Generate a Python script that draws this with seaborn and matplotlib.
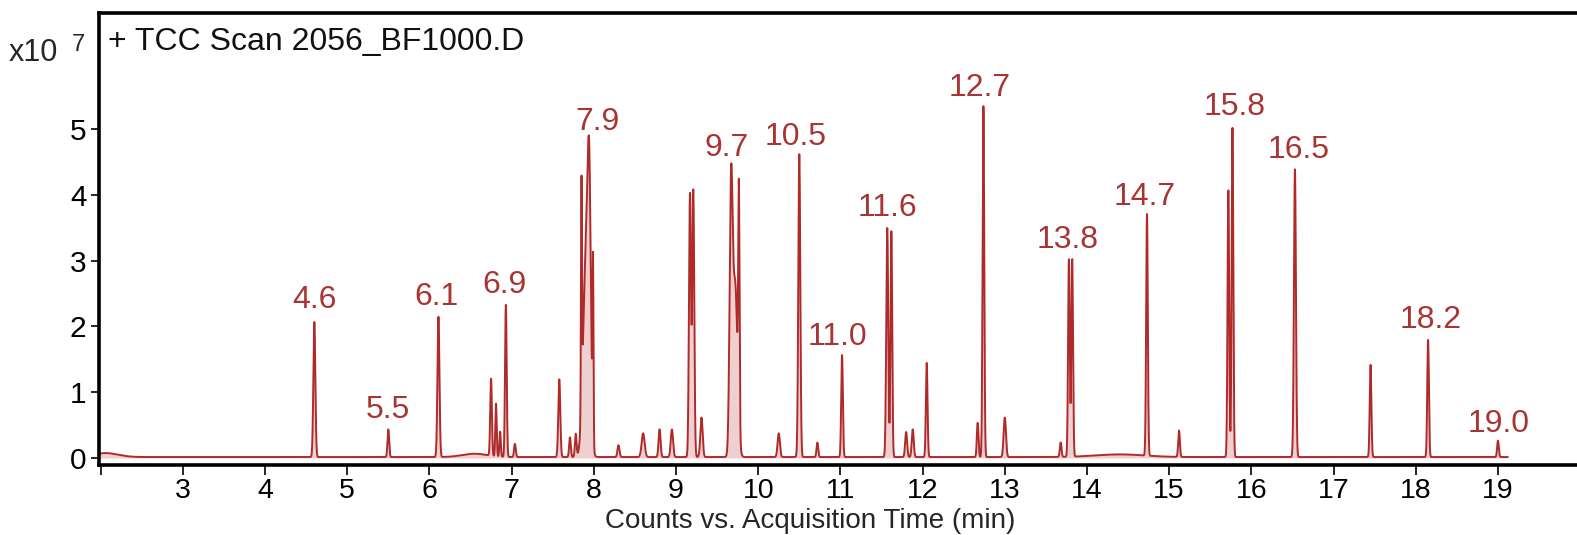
import numpy as np
import pandas as pd
import matplotlib
matplotlib.use("Agg")
import matplotlib.pyplot as plt
import seaborn as sns

# ---- data (heights in units of 1e7 counts) ----
peak_rt = [2.06, 4.60, 5.50, 6.11, 6.55, 6.75, 6.81, 6.86, 6.93, 7.04,
           7.58, 7.71, 7.78, 7.85, 7.905, 7.945, 7.99, 8.30, 8.60, 8.80,
           8.95, 9.17, 9.21, 9.31, 9.67, 9.72, 9.765, 10.25, 10.50, 10.72,
           11.02, 11.57, 11.62, 11.80, 11.88, 12.05, 12.67, 12.74, 13.00,
           13.68, 13.78, 13.82, 14.40, 14.73, 15.12, 15.72, 15.77, 16.53,
           17.45, 18.15, 19.00]
peak_height = [0.06, 2.05, 0.42, 2.13, 0.05, 1.17, 0.80, 0.38, 2.31, 0.20,
               1.18, 0.30, 0.35, 3.40, 3.00, 3.15, 2.70, 0.18, 0.36, 0.42,
               0.42, 4.00, 4.05, 0.60, 3.88, 2.60, 3.50, 0.36, 4.60, 0.22,
               1.55, 3.48, 3.43, 0.38, 0.42, 1.43, 0.52, 5.33, 0.60,
               0.22, 3.00, 3.00, 0.04, 3.67, 0.40, 4.05, 5.00, 4.37,
               1.40, 1.78, 0.25]
peak_width = [0.15, 0.012, 0.010, 0.012, 0.15, 0.010, 0.008, 0.008, 0.010, 0.010,
              0.012, 0.010, 0.010, 0.006, 0.035, 0.020, 0.006, 0.012, 0.018, 0.012,
              0.014, 0.012, 0.012, 0.014, 0.018, 0.028, 0.008, 0.014, 0.012, 0.010,
              0.010, 0.012, 0.010, 0.012, 0.012, 0.010, 0.010, 0.010, 0.014,
              0.010, 0.010, 0.010, 0.30, 0.010, 0.010, 0.010, 0.010, 0.012,
              0.010, 0.010, 0.010]

label_text = ["4.6", "5.5", "6.1", "6.9", "7.9", "9.7", "10.5", "11.0", "11.6",
              "12.7", "13.8", "14.7", "15.8", "16.5", "18.2", "19.0"]
label_x = [4.60, 5.49, 6.09, 6.91, 8.04, 9.62, 10.46, 10.97, 11.57,
           12.70, 13.77, 14.70, 15.80, 16.57, 18.18, 19.01]
label_y = [2.40, 0.73, 2.45, 2.63, 5.11, 4.71, 4.88, 1.84, 3.80,
           5.62, 3.31, 3.97, 5.33, 4.68, 2.10, 0.52]

x_ticks = list(range(2, 20))
x_tick_labels = [""] + [str(v) for v in range(3, 20)]
y_ticks = [0, 1, 2, 3, 4, 5]

# ---- build trace from the peak table ----
t = np.linspace(1.98, 19.12, 20000)
sig = np.zeros_like(t)
for rt, h, w in zip(peak_rt, peak_height, peak_width):
    sig += h * np.exp(-0.5 * ((t - rt) / w) ** 2)
sig += 0.015
df = pd.DataFrame({"time": t, "counts": sig})

sns.set_style("white")
plt.rcParams["font.family"] = ["Liberation Sans", "DejaVu Sans"]

W, H = 1577, 535
fig = plt.figure(figsize=(W / 100, H / 100), dpi=100)
ax = fig.add_axes([99 / W, 1 - 465 / H, 1 - 99 / W + 0.002, (465 - 13) / H])

line_col = "#b02a2a"
ax.fill_between(df["time"], 0, df["counts"], color="#d98a8a", alpha=0.4, linewidth=0)
sns.lineplot(data=df, x="time", y="counts", ax=ax, color=line_col, linewidth=1.4)

for txt, lx, ly in zip(label_text, label_x, label_y):
    ax.text(lx, ly, txt, color="#a83434", fontsize=23, ha="center", va="center")

ax.set_xlim(1.98, 20.0)
ax.set_ylim(-0.106, 6.76)
ax.set_xticks(x_ticks)
ax.set_xticklabels(x_tick_labels)
ax.set_yticks(y_ticks)
ax.tick_params(axis="x", direction="out", length=7, width=1.2, colors="black",
               labelsize=20.5, bottom=True, pad=2)
ax.tick_params(axis="y", direction="out", length=6, width=1.2, colors="black",
               labelsize=21.5, left=True, pad=3)

for side in ["left", "top", "bottom"]:
    ax.spines[side].set_visible(True)
    ax.spines[side].set_color("black")
    ax.spines[side].set_linewidth(2.6)
ax.spines["right"].set_visible(False)

ax.set_ylabel("")
ax.set_xlabel("Counts vs. Acquisition Time (min)", fontsize=20)
ax.xaxis.label.set_va("bottom")
ax.xaxis.set_label_coords((809 - 99) / 1478, -(534 - 465) / 452)

ax.text(0.006, (465 - 42) / 452, "+ TCC Scan 2056_BF1000.D", transform=ax.transAxes,
        fontsize=23, ha="left", va="center", color="#111111")
fig.text(9 / W, 1 - 53 / H, "x10", fontsize=22, ha="left", va="center")
fig.text(72 / W, 1 - 45 / H, "7", fontsize=17, ha="left", va="center")

fig.savefig("out.png", dpi=100)
